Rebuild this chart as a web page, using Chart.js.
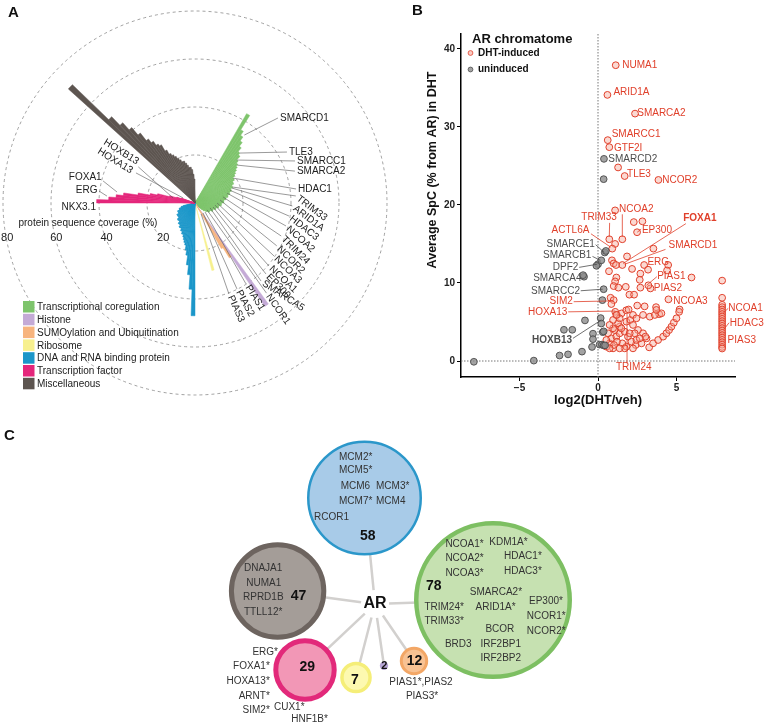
<!DOCTYPE html>
<html>
<head>
<meta charset="utf-8">
<script src="https://cdn.jsdelivr.net/npm/chart.js@4.4.1/dist/chart.umd.min.js"></script>
<style>
  body { margin: 0; background: #fff; }
  #wrap { position: relative; width: 764px; height: 725px; overflow: hidden; }
  canvas { position: absolute; }
  .panel { position: absolute; font: bold 15px 'Liberation Sans', Arial, sans-serif; color: #111; }
</style>
</head>
<body>
<div id="wrap">
  <canvas id="chartA" width="390" height="410" style="left:0px;top:0px"></canvas>
  <canvas id="chartB" width="384" height="420" style="left:380px;top:0px"></canvas>
  <canvas id="chartC" width="764" height="305" style="left:0px;top:420px"></canvas>
  <div class="panel" style="left:8px;top:3px">A</div>
  <div class="panel" style="left:412px;top:1px">B</div>
  <div class="panel" style="left:4px;top:426px">C</div>
</div>
<script>
const FONT = "'Liberation Sans', Arial, sans-serif";

// ---------------- panel A data ----------------
const categories = ['Transcriptional coregulation', 'Histone', 'SUMOylation and Ubiquitination',
  'Ribosome', 'DNA and RNA binding protein', 'Transcription factor', 'Miscellaneous'];
const categoryColors = ['#7ec46c', '#c4aad6', '#f7b47e', '#f7f08e', '#1b96c9', '#e4267b', '#5d5550'];

// protein sequence coverage (%), longest bar first, going clockwise
const coregCoverage = [43, 36, 34, 32, 30, 28, 27, 25, 24, 23, 22, 21, 20, 19, 19, 18, 18, 17, 17, 16, 16,
  15, 15, 14, 14, 13, 13, 12, 12, 12, 11, 11, 11, 10, 10, 10, 9, 9, 9, 8, 8, 8, 8, 7, 7, 7, 7, 6, 6, 5, 5, 4, 3];
const histoneCoverage = [52];
const sumoCoverage = [27, 22];
const riboCoverage = [29];
const dnaRnaCoverage = [47, 36, 30, 26, 22, 20, 18, 17, 16, 15, 14, 14, 13, 13, 12, 12, 12, 11, 11, 11,
  10, 10, 10, 10, 9, 9, 9, 9, 9, 8, 8, 8, 8, 7, 7, 7, 6, 6, 5];
const tfCoverage = [41, 36, 33, 30, 24, 19, 16, 11, 8, 6];
const miscCoverage = [71, 50, 45, 41, 37, 33, 31, 29, 28, 25, 23, 22, 21, 20, 19, 18, 18, 17, 16, 15, 15, 14, 12, 10];
const rTicks = [20, 40, 60, 80];

// ---------------- panel B data ----------------
const inducedPoints = [
  [1.13, 37.9], [0.6, 34.1], [2.36, 31.7], [0.62, 28.3], [0.72, 27.4], [1.28, 24.8], [1.7, 23.7], [3.85, 23.2],
  [1.09, 19.3], [2.28, 17.8], [2.83, 17.9], [2.49, 16.5], [0.72, 15.6], [1.55, 15.6], [1.09, 15.0], [0.91, 14.4],
  [3.53, 14.4], [1.85, 13.4], [0.89, 12.9], [1.0, 12.5], [1.15, 12.3], [1.55, 12.3], [2.17, 11.8], [2.94, 12.3],
  [3.19, 11.7], [4.47, 12.3], [4.4, 11.6], [2.7, 11.2], [0.7, 11.5], [1.17, 10.7], [5.96, 10.7], [1.09, 10.2],
  [2.66, 10.4], [1.77, 9.5], [1.0, 9.6], [1.3, 9.4], [2.7, 9.4], [3.34, 9.3], [3.21, 9.7], [2.0, 8.5], [2.3, 8.5],
  [4.49, 7.9], [0.8, 8.1], [1.0, 7.8], [0.85, 7.3], [1.1, 6.3], [1.2, 5.9], [1.5, 6.1], [1.8, 6.5], [1.95, 6.6],
  [2.5, 7.1], [2.97, 7.0], [3.7, 6.9], [3.9, 6.0], [5.2, 6.6],
  [3.26, 1.75], [3.51, 2.27], [3.83, 2.69], [4.15, 3.12], [4.36, 3.55], [4.53, 3.97], [4.68, 4.4], [4.83, 4.91],
  [5.0, 5.47], [5.17, 6.3],
  [0.96, 1.62], [0.74, 2.26], [0.85, 2.9], [1.17, 3.12], [1.38, 3.55], [1.7, 3.76], [1.38, 4.4], [1.81, 5.04],
  [2.06, 5.26], [2.23, 4.62], [2.55, 3.97], [2.87, 3.55], [3.09, 2.9], [2.34, 3.55], [2.4, 2.05], [1.81, 1.84],
  [1.55, 2.26], [1.91, 3.12], [2.13, 2.48], [2.77, 2.26], [2.45, 2.69], [1.28, 4.83], [1.38, 5.47], [0.96, 5.26],
  [1.17, 5.9], [1.49, 4.19], [1.7, 1.62], [0.53, 1.84], [0.64, 3.55], [0.53, 2.69], [1.06, 3.97], [2.23, 5.9],
  [2.45, 5.47], [2.87, 5.9], [3.3, 5.68], [3.62, 5.9], [4.04, 6.11], [3.72, 6.54], [3.02, 3.12], [2.02, 3.55],
  [1.21, 2.48], [1.02, 2.05], [0.74, 1.62], [1.38, 1.62], [2.23, 1.62], [2.66, 2.9], [0.96, 4.19], [0.74, 4.62],
  [7.91, 10.3], [7.91, 8.1], [7.91, 7.2], [7.91, 6.9], [7.91, 6.6], [7.91, 6.3], [7.91, 6.0], [7.91, 5.7],
  [7.91, 5.4], [7.91, 5.1], [7.91, 4.8], [7.91, 4.5], [7.91, 4.2], [7.91, 3.9], [7.91, 3.6], [7.91, 3.3],
  [7.91, 3.0], [7.91, 2.7], [7.91, 2.4], [7.91, 2.1], [7.91, 1.8], [7.91, 1.6]
];
const uninducedPoints = [
  [-7.91, -0.1], [-4.09, 0.05], [-2.45, 0.7], [-1.91, 0.85], [-2.17, 4.0], [-1.64, 4.0], [-1.02, 1.2],
  [-0.83, 5.2], [-0.89, 10.8], [-0.95, 11.0], [-0.38, 1.8], [-0.32, 3.5], [-0.32, 2.8], [0.17, 5.5], [0.21, 4.8],
  [0.3, 3.7], [0.36, 3.8], [0.1, 2.1], [0.25, 2.1], [0.36, 2.0], [0.45, 2.0], [0.36, 9.2], [0.28, 7.8],
  [0.0, 12.4], [-0.1, 12.2], [0.21, 12.9], [0.43, 13.9], [0.5, 14.1], [0.38, 25.9], [0.36, 23.3]
];
const xTicks = [-5, 0, 5];
const yTicks = [0, 10, 20, 30, 40];

// ---------------- panel C data ----------------
const groupCounts = [58, 78, 47, 29, 7, 2, 12];
const groupFill = ['#a8cbe8', '#c6e1b1', '#a49d98', '#f297b6', '#fdf9b0', '#b7a5d6', '#f8c293'];
const groupEdge = ['#2b97ca', '#7dbf62', '#6d645f', '#e2297a', '#f5ee78', '#b7a5d6', '#f3a766'];

// ================= panel A =================
const SLICE = 2;
const nSlices = 360 / SLICE;
// where each category wedge begins, degrees clockwise from 12 o'clock
const wedgeStart = [30, 144, 146, 164, 180, 270, 312];
const coverageByCategory = [coregCoverage, histoneCoverage, sumoCoverage, riboCoverage, dnaRnaCoverage, tfCoverage, miscCoverage];
const sliceValues = new Array(nSlices).fill(0);
const sliceColors = new Array(nSlices).fill('rgba(0,0,0,0)');
coverageByCategory.forEach((vals, c) => {
  const s0 = wedgeStart[c] / SLICE;
  vals.forEach((v, k) => {
    sliceValues[(s0 + k) % nSlices] = v;
    sliceColors[(s0 + k) % nSlices] = categoryColors[c];
  });
});

// label, bar angle, bar coverage, label angle, label coverage (angles ccw from 3 o'clock)
const flatLabels = [
  ['SMARCD1', 54, 35, 45.7, 49.5],
  ['TLE3', 48, 28, 29, 43.8],
  ['SMARCC1', 45.7, 25, 22.8, 45.2],
  ['SMARCA2', 42, 23.6, 17.7, 43.7],
  ['HDAC1', 33, 19, 7.9, 42.5]
];
// label, bar angle, bar coverage, label angle, label coverage, text rotation
const slantLabels = [
  ['TRIM33', 23, 17, 3.4, 42.5, 37],
  ['ARID1A', 22, 16.6, -2.3, 41, 37],
  ['HDAC3', 20, 15.5, -8.4, 40, 38],
  ['NCOA2', 17, 14, -14.6, 39.6, 42],
  ['TRIM24', 12, 12, -21.3, 39, 45],
  ['NCOR2', 7, 10.5, -27.9, 39, 45],
  ['NCOA3', 0, 9.2, -34, 40.2, 45],
  ['NCOA1', -6, 8.4, -40.5, 41, 43],
  ['EP300', -12.5, 7.7, -45, 42.4, 45],
  ['SMARCA5', -18, 6.6, -49.7, 43.2, 33],
  ['NCOR1', -30, 5.8, -51.5, 48.5, 55],
  ['PIAS1', -42, 5.6, -57.6, 40.4, 58],
  ['PIAS2', -51, 5.3, -63.7, 40.4, 62],
  ['PIAS3', -61, 5.2, -69.2, 41, 66]
];
// left side labels: text, text angle, text coverage, rotation, line from (angle, cov) to (angle, cov)
const leftLabels = [
  ['HOXB13', 144.5, 29.2, 32, [147.5, 28, 167, 9.4]],
  ['HOXA13', 153.4, 29.4, 32, [153, 27.6, 157, 5.4]],
  ['FOXA1', 164.4, 40.4, 0, [166.5, 39.4, 172, 32.8]],
  ['ERG', 172.4, 41, 0, [172.9, 40.3, 175.5, 36.8]],
  ['NKX3.1', 182.3, 41.3, 0, null]
];

function polarXY(scale, deg, v) {
  const d = scale.getDistanceFromCenterForValue(v);
  const a = deg * Math.PI / 180;
  return { x: scale.xCenter + d * Math.cos(a), y: scale.yCenter - d * Math.sin(a) };
}

const panelAOverlay = {
  id: 'panelAOverlay',
  afterDraw(chart) {
    const ctx = chart.ctx;
    const s = chart.scales.r;
    ctx.save();
    ctx.strokeStyle = '#555';
    ctx.lineWidth = 0.6;
    ctx.fillStyle = '#222';
    ctx.font = '10px ' + FONT;
    ctx.textBaseline = 'middle';

    flatLabels.forEach(([t, ba, bv, la, lv]) => {
      const p = polarXY(s, ba, bv), q = polarXY(s, la, lv);
      ctx.beginPath(); ctx.moveTo(p.x, p.y); ctx.lineTo(q.x, q.y); ctx.stroke();
      ctx.textAlign = 'left';
      ctx.fillText(t, q.x + 2, q.y);
    });
    slantLabels.forEach(([t, ba, bv, la, lv, rot]) => {
      const p = polarXY(s, ba, bv), q = polarXY(s, la, lv);
      ctx.beginPath(); ctx.moveTo(p.x, p.y); ctx.lineTo(q.x - 1, q.y - 1); ctx.stroke();
      ctx.save();
      ctx.translate(q.x, q.y);
      ctx.rotate(rot * Math.PI / 180);
      ctx.textAlign = 'left';
      ctx.fillText(t, 1, 0);
      ctx.restore();
    });
    leftLabels.forEach(([t, la, lv, rot, line]) => {
      if (line) {
        const p = polarXY(s, line[0], line[1]), q = polarXY(s, line[2], line[3]);
        ctx.beginPath(); ctx.moveTo(p.x, p.y); ctx.lineTo(q.x, q.y); ctx.stroke();
      }
      const q = polarXY(s, la, lv);
      ctx.save();
      ctx.translate(q.x, q.y);
      ctx.rotate(rot * Math.PI / 180);
      ctx.textAlign = 'right';
      ctx.fillText(t, 0, 0);
      ctx.restore();
    });

    const off = s.getDistanceFromCenterForValue(14.6);
    ctx.font = '11px ' + FONT;
    ctx.textAlign = 'center';
    rTicks.forEach(v => {
      const d = s.getDistanceFromCenterForValue(v);
      const x = s.xCenter - Math.sqrt(d * d - off * off);
      ctx.fillText(String(v), x + 1, s.yCenter + off);
    });
    ctx.font = '10px ' + FONT;
    ctx.fillText('protein sequence coverage (%)', s.xCenter - s.getDistanceFromCenterForValue(44.6), s.yCenter + s.getDistanceFromCenterForValue(8.3));

    // legend
    ctx.textAlign = 'left';
    categories.forEach((c, i) => {
      const y = 301 + i * 12.8;
      ctx.fillStyle = categoryColors[i];
      ctx.fillRect(23, y, 11.5, 11.5);
      ctx.fillStyle = '#222';
      ctx.fillText(c, 37, y + 6.5);
    });
    ctx.restore();
  }
};

new Chart(document.getElementById('chartA'), {
  type: 'polarArea',
  data: {
    labels: sliceValues.map(() => ''),
    datasets: [{
      data: sliceValues,
      backgroundColor: sliceColors,
      borderColor: sliceColors,
      borderWidth: ctx => (ctx.raw > 0 ? 0.5 : 0)
    }]
  },
  options: {
    responsive: false,
    animation: false,
    layout: { padding: { left: 3, right: 3, top: 11, bottom: 15 } },
    plugins: { legend: { display: false }, tooltip: { enabled: false } },
    scales: {
      r: {
        min: 0, max: 80, startAngle: 0,
        ticks: { display: false, stepSize: 20 },
        grid: { circular: true, color: '#8a8a8a', lineWidth: 0.8 },
        border: { dash: [3, 3] },
        angleLines: { display: false },
        pointLabels: { display: false }
      }
    }
  },
  plugins: [panelAOverlay]
});

// ================= panel B =================
const RED = '#e0402b', GREY = '#4d4d4d';
// text, x, y, align, colour, bold
const volcanoLabels = [
  ['NUMA1', 1.55, 37.9, 'left', RED], ['ARID1A', 0.98, 34.5, 'left', RED], ['SMARCA2', 2.5, 31.8, 'left', RED],
  ['SMARCC1', 0.87, 29.0, 'left', RED], ['GTF2I', 1.02, 27.3, 'left', RED], ['SMARCD2', 0.66, 25.9, 'left', GREY],
  ['TLE3', 1.85, 23.9, 'left', RED], ['NCOR2', 4.1, 23.1, 'left', RED], ['NCOA2', 1.34, 19.5, 'left', RED],
  ['TRIM33', 1.2, 18.4, 'right', RED], ['FOXA1', 5.43, 18.3, 'left', RED, true], ['EP300', 2.8, 16.8, 'left', RED],
  ['ACTL6A', -0.55, 16.7, 'right', RED], ['SMARCD1', 4.49, 14.8, 'left', RED], ['SMARCE1', -0.2, 15.0, 'right', GREY],
  ['SMARCB1', -0.42, 13.5, 'right', GREY], ['ERG', 3.15, 12.6, 'left', RED], ['DPF2', -1.25, 12.0, 'right', GREY],
  ['PIAS1', 3.77, 10.9, 'left', RED], ['SMARCA4', -1.05, 10.6, 'right', GREY], ['PIAS2', 3.55, 9.3, 'left', RED],
  ['SMARCC2', -1.15, 9.0, 'right', GREY], ['NCOA3', 4.79, 7.7, 'left', RED], ['SIM2', -1.6, 7.6, 'right', RED],
  ['NCOA1', 8.3, 6.75, 'left', RED], ['HOXA13', -1.95, 6.2, 'right', RED], ['HDAC3', 8.4, 4.9, 'left', RED],
  ['PIAS3', 8.26, 2.7, 'left', RED], ['HOXB13', -1.65, 2.6, 'right', GREY, true], ['TRIM24', 2.28, -0.8, 'center', RED]
];
const volcanoLeaders = [
  [0.74, 17.7, 0.72, 15.9, RED], [1.55, 18.8, 1.55, 15.9, RED], [-0.45, 16.3, 0.8, 14.6, RED],
  [5.6, 17.6, 1.6, 12.5, RED], [4.3, 14.3, 1.7, 12.4, RED], [2.75, 16.9, 2.5, 16.5, RED],
  [-0.15, 14.9, 0.4, 13.9, GREY], [-0.35, 13.4, 0.15, 12.9, GREY], [-1.2, 12.0, -0.05, 12.4, GREY],
  [-1.1, 9.0, 0.3, 9.2, GREY], [-1.55, 7.6, 1.0, 7.7, RED], [-1.9, 6.3, 1.1, 6.4, RED],
  [-1.6, 2.9, 0.17, 5.2, GREY], [3.75, 10.8, 3.1, 9.7, RED], [8.3, 6.75, 8.0, 6.2, RED],
  [8.35, 4.9, 8.0, 4.0, RED], [1.85, -0.3, 1.85, 6.0, RED]
];

const panelBOverlay = {
  id: 'panelBOverlay',
  beforeDatasetsDraw(chart) {
    const { ctx, chartArea: a, scales: { x, y } } = chart;
    ctx.save();
    ctx.strokeStyle = '#777';
    ctx.lineWidth = 1;
    ctx.setLineDash([1.5, 1.5]);
    const x0 = x.getPixelForValue(0), y0 = y.getPixelForValue(0);
    ctx.beginPath(); ctx.moveTo(x0, a.top); ctx.lineTo(x0, a.bottom); ctx.stroke();
    ctx.beginPath(); ctx.moveTo(a.left, y0); ctx.lineTo(a.right, y0); ctx.stroke();
    ctx.restore();
  },
  afterDatasetsDraw(chart) {
    const { ctx, chartArea: a, scales: { x, y } } = chart;
    ctx.save();
    ctx.lineWidth = 0.8;
    volcanoLeaders.forEach(([x1, y1, x2, y2, c]) => {
      ctx.strokeStyle = c;
      ctx.beginPath();
      ctx.moveTo(x.getPixelForValue(x1), y.getPixelForValue(y1));
      ctx.lineTo(x.getPixelForValue(x2), y.getPixelForValue(y2));
      ctx.stroke();
    });
    ctx.textBaseline = 'middle';
    volcanoLabels.forEach(([t, vx, vy, al, c, bold]) => {
      ctx.font = (bold ? 'bold ' : '') + '10px ' + FONT;
      ctx.fillStyle = c;
      ctx.textAlign = al;
      ctx.fillText(t, x.getPixelForValue(vx), y.getPixelForValue(vy));
    });

    // legend
    ctx.fillStyle = '#111';
    ctx.textAlign = 'left';
    ctx.font = 'bold 13px ' + FONT;
    ctx.fillText('AR chromatome', a.left + 11, a.top + 5);
    ctx.font = 'bold 10px ' + FONT;
    [['DHT-induced', RED, 'rgba(246,170,155,0.6)'], ['uninduced', GREY, 'rgba(140,140,140,0.8)']].forEach(([t, c, f], i) => {
      const yy = a.top + 19 + i * 16.5;
      ctx.beginPath();
      ctx.arc(a.left + 9.5, yy, 2.4, 0, Math.PI * 2);
      ctx.fillStyle = f; ctx.fill();
      ctx.strokeStyle = c; ctx.lineWidth = 0.8; ctx.stroke();
      ctx.fillStyle = '#111';
      ctx.fillText(t, a.left + 17, yy);
    });

    // axis titles
    ctx.font = 'bold 13px ' + FONT;
    ctx.textAlign = 'center';
    ctx.fillText('log2(DHT/veh)', (a.left + a.right) / 2, a.bottom + 23);
    ctx.save();
    ctx.translate(a.left - 28, a.top + 136);
    ctx.rotate(-Math.PI / 2);
    ctx.font = 'bold 12.5px ' + FONT;
    ctx.fillText('Average SpC (% from AR) in DHT', 0, 0);
    ctx.restore();
    ctx.restore();
  }
};

const tickFont = { family: FONT, size: 10, weight: 'bold' };
new Chart(document.getElementById('chartB'), {
  type: 'scatter',
  data: {
    datasets: [{
      label: 'uninduced',
      data: uninducedPoints.map(([x, y]) => ({ x, y })),
      pointRadius: 3.4,
      pointBackgroundColor: 'rgba(140,140,140,0.8)',
      pointBorderColor: '#4a4a4a',
      pointBorderWidth: 0.9
    }, {
      label: 'DHT-induced',
      data: inducedPoints.map(([x, y]) => ({ x, y })),
      pointRadius: 3.4,
      pointBackgroundColor: 'rgba(246,170,155,0.45)',
      pointBorderColor: RED,
      pointBorderWidth: 1
    }]
  },
  options: {
    responsive: false,
    animation: false,
    layout: { padding: { left: 0, right: 29, top: 34, bottom: 0 } },
    plugins: { legend: { display: false }, tooltip: { enabled: false } },
    scales: {
      x: {
        type: 'linear', min: -8.73, max: 8.73,
        afterBuildTicks: s => { s.ticks = xTicks.map(v => ({ value: v })); },
        afterFit: s => { s.height = 43; },
        ticks: { font: tickFont, color: '#222', padding: 1, callback: v => (v < 0 ? '\u2212' + Math.abs(v) : v) },
        grid: { drawOnChartArea: false, tickLength: 4, color: '#000' },
        border: { color: '#000', width: 1.5 }
      },
      y: {
        type: 'linear', min: -2.05, max: 41.9,
        afterBuildTicks: s => { s.ticks = yTicks.map(v => ({ value: v })); },
        afterFit: s => { s.width = 81; },
        ticks: { font: tickFont, color: '#222', padding: 2 },
        grid: { drawOnChartArea: false, tickLength: 4, color: '#000' },
        border: { color: '#000', width: 1.5 }
      }
    }
  },
  plugins: [panelBOverlay]
});

// ================= panel C =================
// network layout (canvas units), AR hub first, then the groups in groupCounts order
const hub = { x: 375, y: 184 };
const nodeX = [364.5, 493, 277.6, 305, 356, 384, 414];
const nodeY = [78, 180, 171, 250, 257.5, 245.7, 241];
const nodeR = [57.5, 79, 48.7, 31.7, 15.8, 4.2, 14.2];
const nodeEdgeW = [2.5, 4.5, 5, 5, 3.5, 0, 3];
const countPos = [[367.7, 115.7], [433.7, 165.7], [298.5, 175.7], [307.3, 247.3], [355, 260], [384.4, 246], [414.6, 240.7]];
const memberLabels = [
  ['MCM2*', 339, 37.7, 'left'], ['MCM5*', 339, 50.7, 'left'], ['MCM6', 340.7, 66.7, 'left'], ['MCM3*', 376, 66.7, 'left'],
  ['MCM7*', 339, 81.7, 'left'], ['MCM4', 376, 81.7, 'left'], ['RCOR1', 314, 97.3, 'left'],
  ['NCOA1*', 445.4, 124, 'left'], ['KDM1A*', 489.3, 122.3, 'left'], ['NCOA2*', 445.4, 138.3, 'left'],
  ['HDAC1*', 504, 136.7, 'left'], ['NCOA3*', 445.4, 153.3, 'left'], ['HDAC3*', 504, 151.7, 'left'],
  ['SMARCA2*', 469.8, 172.7, 'left'], ['EP300*', 529, 181.7, 'left'], ['TRIM24*', 424.4, 187.3, 'left'],
  ['ARID1A*', 475.6, 187.7, 'left'], ['NCOR1*', 526.8, 196.7, 'left'], ['TRIM33*', 424.4, 201.7, 'left'],
  ['BCOR', 485.4, 209.3, 'left'], ['NCOR2*', 526.8, 211, 'left'], ['BRD3', 444.9, 224.3, 'left'],
  ['IRF2BP1', 480.5, 224, 'left'], ['IRF2BP2', 480.5, 238.7, 'left'],
  ['DNAJA1', 244, 148.3, 'left'], ['NUMA1', 246.3, 163.3, 'left'], ['RPRD1B', 243, 177.7, 'left'], ['TTLL12*', 244, 192.3, 'left'],
  ['ERG*', 278, 232.3, 'right'], ['FOXA1*', 269.8, 246.7, 'right'], ['HOXA13*', 269.8, 261.7, 'right'],
  ['ARNT*', 269.8, 276, 'right'], ['SIM2*', 269.8, 290.7, 'right'], ['CUX1*', 274, 287.3, 'left'], ['HNF1B*', 291.2, 299, 'left'],
  ['PIAS1*,PIAS2', 389.3, 262.3, 'left'], ['PIAS3*', 405.9, 276.7, 'left']
];

const panelCOverlay = {
  id: 'panelCOverlay',
  beforeDatasetsDraw(chart) {
    const { ctx, scales: { x, y } } = chart;
    const hx = x.getPixelForValue(hub.x), hy = y.getPixelForValue(hub.y);
    ctx.save();
    ctx.strokeStyle = '#d2d0ce';
    ctx.lineWidth = 2.5;
    nodeX.forEach((nx, i) => {
      const px = x.getPixelForValue(nx), py = y.getPixelForValue(nodeY[i]);
      const dx = px - hx, dy = py - hy, len = Math.hypot(dx, dy);
      ctx.beginPath();
      ctx.moveTo(hx + dx / len * 14, hy + dy / len * 14);
      ctx.lineTo(px, py);
      ctx.stroke();
    });
    ctx.restore();
  },
  afterDatasetsDraw(chart) {
    const { ctx, scales: { x, y } } = chart;
    ctx.save();
    ctx.textBaseline = 'middle';
    ctx.fillStyle = '#111';
    ctx.textAlign = 'center';
    ctx.font = 'bold 16px ' + FONT;
    ctx.fillText('AR', x.getPixelForValue(hub.x), y.getPixelForValue(hub.y));
    groupCounts.forEach((n, i) => {
      ctx.font = (i === 5 ? 'bold 11px ' : 'bold 14px ') + FONT;
      ctx.fillText(String(n), x.getPixelForValue(countPos[i][0]), y.getPixelForValue(countPos[i][1]));
    });
    ctx.font = '10px ' + FONT;
    ctx.fillStyle = '#333';
    memberLabels.forEach(([t, lx, ly, al]) => {
      ctx.textAlign = al;
      ctx.fillText(t, x.getPixelForValue(lx), y.getPixelForValue(ly));
    });
    ctx.restore();
  }
};

new Chart(document.getElementById('chartC'), {
  type: 'bubble',
  data: {
    datasets: [{
      data: groupCounts.map((n, i) => ({ x: nodeX[i], y: nodeY[i], r: nodeR[i] - nodeEdgeW[i] / 2, n })),
      backgroundColor: groupFill,
      borderColor: groupEdge,
      borderWidth: nodeEdgeW,
      hoverRadius: 0
    }]
  },
  options: {
    responsive: false,
    animation: false,
    layout: { padding: 0, autoPadding: false },
    clip: false,
    plugins: { legend: { display: false }, tooltip: { enabled: false } },
    scales: {
      x: { type: 'linear', min: 0, max: 764, display: false },
      y: { type: 'linear', min: 0, max: 305, reverse: true, display: false }
    }
  },
  plugins: [panelCOverlay]
});
</script>
</body>
</html>
